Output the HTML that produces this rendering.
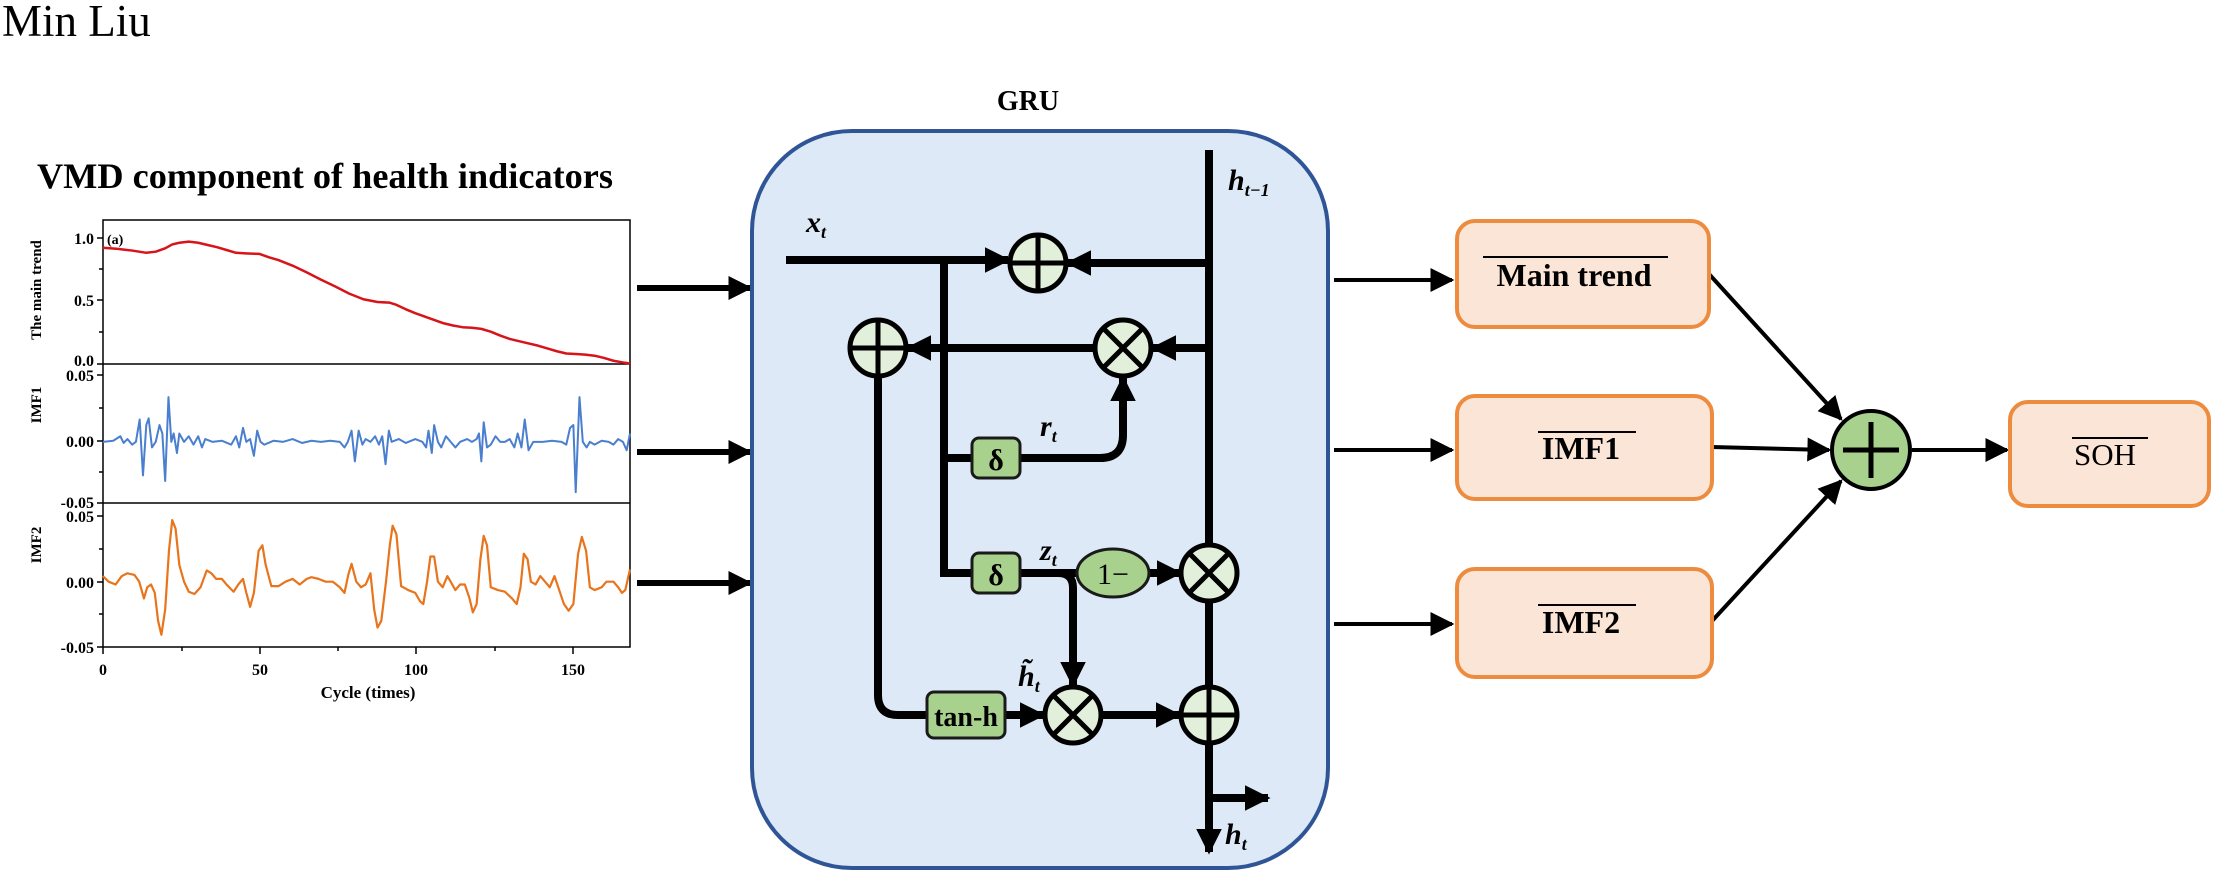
<!DOCTYPE html>
<html><head><meta charset="utf-8"><style>
html,body{margin:0;padding:0;background:#fff;}
svg{display:block;}
text{font-family:"Liberation Serif",serif;}
</style></head><body>
<svg width="2223" height="877" viewBox="0 0 2223 877" xmlns="http://www.w3.org/2000/svg">
<defs>
<marker id="ah" viewBox="0 0 10 10" refX="9" refY="5" markerWidth="4" markerHeight="4" orient="auto" markerUnits="strokeWidth"><path d="M0,0 L10,5 L0,10 z" fill="#000"/></marker>
<marker id="ah2" viewBox="0 0 10 10" refX="9" refY="5" markerWidth="3.2" markerHeight="3.2" orient="auto" markerUnits="strokeWidth"><path d="M0,0 L10,5 L0,10 z" fill="#000"/></marker>
<marker id="ah3" viewBox="0 0 10 10" refX="9" refY="5" markerWidth="6" markerHeight="6" orient="auto" markerUnits="strokeWidth"><path d="M0,0 L10,5 L0,10 z" fill="#000"/></marker>
</defs>

<text x="2" y="36" font-size="45">Min Liu</text>
<text x="37" y="188" font-size="36" font-weight="bold" textLength="576" lengthAdjust="spacingAndGlyphs">VMD component of health indicators</text>

<!-- plot -->
<rect x="103" y="220" width="527" height="427" fill="none" stroke="#000" stroke-width="1.5"/>
<line x1="103" y1="364" x2="630" y2="364" stroke="#000" stroke-width="1.5"/>
<line x1="103" y1="503" x2="630" y2="503" stroke="#000" stroke-width="1.5"/>
<g stroke="#000" stroke-width="1.5">
<line x1="97" y1="238" x2="103" y2="238"/><line x1="99" y1="269" x2="103" y2="269"/><line x1="97" y1="300" x2="103" y2="300"/><line x1="99" y1="332" x2="103" y2="332"/><line x1="97" y1="364" x2="103" y2="364"/>
<line x1="97" y1="375" x2="103" y2="375"/><line x1="99" y1="408" x2="103" y2="408"/><line x1="97" y1="441" x2="103" y2="441"/><line x1="99" y1="472" x2="103" y2="472"/><line x1="97" y1="503" x2="103" y2="503"/>
<line x1="97" y1="516" x2="103" y2="516"/><line x1="99" y1="549" x2="103" y2="549"/><line x1="97" y1="582" x2="103" y2="582"/><line x1="99" y1="614" x2="103" y2="614"/><line x1="97" y1="647" x2="103" y2="647"/>
<line x1="103" y1="647" x2="103" y2="654"/><line x1="182" y1="647" x2="182" y2="651"/><line x1="260" y1="647" x2="260" y2="654"/><line x1="338" y1="647" x2="338" y2="651"/><line x1="416" y1="647" x2="416" y2="654"/><line x1="495" y1="647" x2="495" y2="651"/><line x1="573" y1="647" x2="573" y2="654"/>
</g>
<g font-size="16" font-weight="bold" text-anchor="end">
<text x="94" y="244">1.0</text><text x="94" y="306">0.5</text><text x="94" y="366">0.0</text>
<text x="94" y="381">0.05</text><text x="94" y="447">0.00</text><text x="94" y="508">-0.05</text>
<text x="94" y="522">0.05</text><text x="94" y="588">0.00</text><text x="94" y="653">-0.05</text>
</g>
<g font-size="16" font-weight="bold" text-anchor="middle">
<text x="103" y="675">0</text><text x="260" y="675">50</text><text x="416" y="675">100</text><text x="573" y="675">150</text>
<text x="368" y="698" font-size="17">Cycle (times)</text>
<text transform="translate(41,290) rotate(-90)" font-size="15">The main trend</text>
<text transform="translate(41,405) rotate(-90)" font-size="15">IMF1</text>
<text transform="translate(41,545) rotate(-90)" font-size="15">IMF2</text>
</g>
<text x="107" y="244" font-size="14" font-weight="bold">(a)</text>
<g transform="scale(0.4719,0.5593)" fill="none" stroke-linejoin="round">
<polyline vector-effect="non-scaling-stroke" stroke="#d7141a" stroke-width="2.5" points="218,443 250,445 280,448 310,452 330,450 350,444 365,437 380,434 400,432 420,434 440,438 460,442 480,447 500,452 520,453 550,454 570,460 590,465 620,475 650,487 680,500 710,512 740,525 770,535 800,540 825,541 840,545 860,553 880,560 900,566 920,572 940,578 960,582 980,585 1000,586 1020,588 1040,593 1060,600 1080,606 1110,612 1140,618 1160,623 1180,628 1200,632 1220,633 1240,634 1260,636 1280,640 1300,645 1320,648 1335,650"/>
<polyline vector-effect="non-scaling-stroke" stroke="#4a7fcf" stroke-width="2" points="218,790 240,788 255,780 262,792 270,785 280,795 288,790 296,750 303,850 310,760 315,748 322,800 330,790 338,760 344,775 350,860 357,710 363,790 368,775 375,810 380,775 390,790 400,780 410,795 420,780 428,800 435,785 450,790 470,788 490,795 500,780 507,800 515,765 522,790 530,785 538,815 545,770 552,790 560,795 580,788 600,790 620,785 640,792 660,788 680,790 700,788 720,790 730,800 737,790 745,770 752,825 760,770 768,795 775,785 785,790 795,780 803,795 810,780 817,830 824,770 830,790 845,785 860,792 880,785 895,790 903,800 908,770 915,810 920,760 928,790 935,800 945,780 955,790 965,800 975,790 990,785 1000,790 1010,785 1015,775 1020,825 1025,755 1032,800 1040,795 1050,780 1060,790 1070,790 1080,785 1090,800 1097,775 1105,800 1112,750 1120,805 1130,790 1150,790 1170,788 1190,790 1200,795 1208,765 1215,760 1220,880 1228,710 1235,790 1243,800 1250,790 1260,795 1275,788 1290,790 1300,795 1310,785 1320,790 1328,805 1335,775"/>
<polyline vector-effect="non-scaling-stroke" stroke="#e8741c" stroke-width="2.2" points="218,1030 230,1040 245,1045 258,1030 270,1025 285,1028 295,1040 305,1070 312,1050 320,1045 328,1060 335,1110 342,1135 350,1090 358,985 365,930 372,945 380,1010 390,1040 400,1058 412,1062 425,1050 438,1020 448,1025 458,1035 470,1035 480,1045 495,1058 505,1045 515,1035 522,1060 530,1085 538,1060 548,985 556,975 563,1010 575,1048 590,1048 605,1040 620,1035 635,1045 650,1035 660,1032 675,1035 690,1040 705,1040 720,1050 730,1060 738,1028 745,1008 755,1040 765,1050 775,1045 785,1025 793,1090 800,1122 808,1110 818,1040 826,975 832,940 840,955 850,1048 865,1055 880,1060 890,1075 897,1080 905,1040 912,995 920,995 928,1040 938,1050 948,1030 955,1040 965,1055 975,1045 985,1045 995,1070 1002,1095 1010,1080 1018,1000 1025,958 1032,975 1040,1050 1055,1055 1070,1058 1085,1070 1095,1080 1103,1050 1110,990 1118,1000 1125,1040 1135,1045 1145,1030 1155,1040 1165,1050 1175,1030 1185,1055 1195,1080 1205,1092 1215,1080 1225,990 1233,960 1242,985 1250,1050 1260,1055 1275,1050 1285,1040 1300,1040 1310,1050 1318,1060 1325,1055 1335,1018"/>
</g>

<!-- input arrows -->
<g stroke="#000" stroke-width="6" marker-end="url(#ah)">
<line x1="637" y1="288" x2="750" y2="288"/>
<line x1="637" y1="452" x2="750" y2="452"/>
<line x1="637" y1="583" x2="750" y2="583"/>
</g>

<!-- GRU -->
<text x="1028" y="110" font-size="28" font-weight="bold" text-anchor="middle">GRU</text>
<rect x="752" y="131" width="576" height="737" rx="100" ry="100" fill="#dde9f6" stroke="#2f5597" stroke-width="4"/>

<g stroke="#000" stroke-width="8" fill="none">
<line x1="1209" y1="150" x2="1209" y2="830"/>
<line x1="786" y1="260" x2="1008" y2="260" marker-end="url(#ah2)"/>
<line x1="1209" y1="263" x2="1068" y2="263" marker-end="url(#ah2)"/>
<line x1="944" y1="256" x2="944" y2="577"/>
<line x1="1209" y1="348" x2="1153" y2="348" marker-end="url(#ah2)"/>
<line x1="1095" y1="348" x2="908" y2="348" marker-end="url(#ah2)"/>
<line x1="940" y1="458" x2="972" y2="458"/>
<line x1="940" y1="573" x2="972" y2="573"/>
<path d="M1020,458 H1100 Q1123,458 1123,435 V378" marker-end="url(#ah2)"/>
<line x1="1020" y1="573" x2="1078" y2="573"/>
<line x1="1148" y1="573" x2="1180" y2="573" marker-end="url(#ah2)"/>
<path d="M1040,573 H1058 Q1073,573 1073,588 V685" marker-end="url(#ah2)"/>
<path d="M878,376 V695 Q878,715 898,715 H927"/>
<line x1="1005" y1="715" x2="1043" y2="715" marker-end="url(#ah2)"/>
<line x1="1101" y1="715" x2="1179" y2="715" marker-end="url(#ah2)"/>
<line x1="1209" y1="798" x2="1268" y2="798" marker-end="url(#ah2)"/>
<line x1="1209" y1="790" x2="1209" y2="852" marker-end="url(#ah2)"/>
</g>
<g stroke="#000" stroke-width="5" fill="#e2efda">
<circle cx="1038" cy="263" r="28"/><path d="M1010,263 H1066 M1038,235 V291"/>
<circle cx="878" cy="348" r="28"/><path d="M850,348 H906 M878,320 V376"/>
<circle cx="1123" cy="348" r="28"/><path d="M1103,328 L1143,368 M1143,328 L1103,368"/>
<circle cx="1209" cy="573" r="28"/><path d="M1189,553 L1229,593 M1229,553 L1189,593"/>
<circle cx="1073" cy="715" r="28"/><path d="M1053,695 L1093,735 M1093,695 L1053,735"/>
<circle cx="1209" cy="715" r="28"/><path d="M1181,715 H1237 M1209,687 V743"/>
</g>
<g stroke="#1a1a1a" stroke-width="3" fill="#a9d18e">
<rect x="972" y="438" width="48" height="40" rx="7"/>
<rect x="972" y="553" width="48" height="40" rx="7"/>
<rect x="927" y="692" width="78" height="46" rx="7"/>
<ellipse cx="1113" cy="573" rx="36" ry="24"/>
</g>
<g font-weight="bold" text-anchor="middle">
<text x="996" y="470" font-size="30">δ</text>
<text x="996" y="585" font-size="30">δ</text>
<text x="966" y="726" font-size="28">tan-h</text>
<text x="1113" y="584" font-size="30" font-weight="normal">1−</text>
</g>
<g font-style="italic" font-weight="bold" font-size="30">
<text x="806" y="232">x<tspan font-size="18" dy="6">t</tspan></text>
<text x="1228" y="190">h<tspan font-size="18" dy="6">t−1</tspan></text>
<text x="1040" y="436">r<tspan font-size="18" dy="6">t</tspan></text>
<text x="1040" y="560">z<tspan font-size="18" dy="6">t</tspan></text>
<text x="1018" y="686">h̃<tspan font-size="18" dy="6">t</tspan></text>
<text x="1225" y="844">h<tspan font-size="18" dy="6">t</tspan></text>
</g>

<!-- output arrows -->
<g stroke="#000" stroke-width="4" marker-end="url(#ah3)">
<line x1="1334" y1="280" x2="1452" y2="280"/>
<line x1="1334" y1="450" x2="1452" y2="450"/>
<line x1="1334" y1="624" x2="1452" y2="624"/>
<line x1="1709" y1="274" x2="1841" y2="419"/>
<line x1="1712" y1="447" x2="1829" y2="450"/>
<line x1="1712" y1="621" x2="1841" y2="481"/>
<line x1="1912" y1="450" x2="2007" y2="450"/>
</g>
<g fill="#fbe5d6" stroke="#ed8b3e" stroke-width="4">
<rect x="1457" y="221" width="252" height="106" rx="18"/>
<rect x="1457" y="396" width="255" height="103" rx="18"/>
<rect x="1457" y="569" width="255" height="108" rx="18"/>
<rect x="2010" y="402" width="199" height="104" rx="18"/>
</g>
<circle cx="1871" cy="450" r="39" fill="#a9d18e" stroke="#000" stroke-width="4"/>
<path d="M1843,450 H1899 M1871,422 V478" stroke="#000" stroke-width="5"/>
<g font-size="32" font-weight="bold" text-anchor="middle">
<text x="1574" y="286">Main trend</text>
<text x="1581" y="459">IMF1</text>
<text x="1581" y="633">IMF2</text>
<text x="2105" y="465" font-weight="normal" font-size="31">SOH</text>
</g>
<g stroke="#000" stroke-width="2">
<line x1="1483" y1="257" x2="1668" y2="257"/>
<line x1="1538" y1="432" x2="1636" y2="432"/>
<line x1="1538" y1="605" x2="1636" y2="605"/>
<line x1="2072" y1="438" x2="2148" y2="438"/>
</g>
</svg>
</body></html>
